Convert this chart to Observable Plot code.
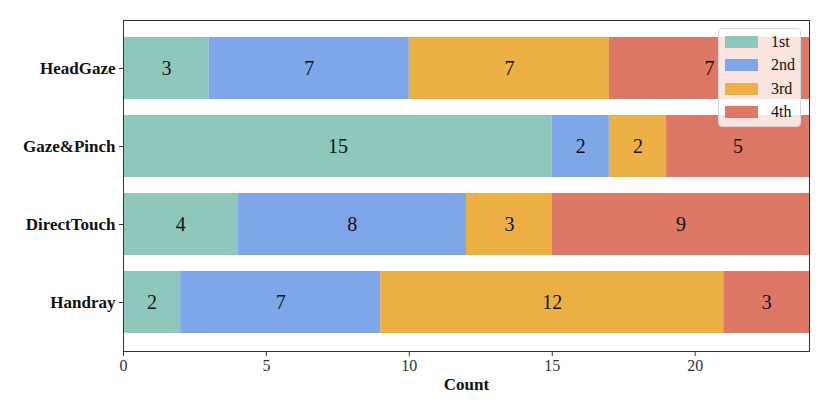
<!DOCTYPE html>
<html>
<head>
<meta charset="utf-8">
<script src="https://cdn.jsdelivr.net/npm/d3@7"></script>
<script src="https://cdn.jsdelivr.net/npm/@observablehq/plot@0.6"></script>
<style>
  html, body { margin: 0; padding: 0; background: #fff; }
  #wrap { position: relative; width: 830px; height: 415px; font-family: "Liberation Serif", serif; }
  svg { font-family: "Liberation Serif", serif; }
  g[aria-label="x-axis label"] text { font-weight: bold; font-size: 17px; fill: #111; }
  g[aria-label="y-axis tick label"] text { font-weight: bold; font-size: 17px; fill: #111; }
  #legend { position: absolute; left: 718px; top: 28px; width: 83px; height: 99px;
    background: rgba(255,255,255,0.8); border: 1px solid #d6d6d6; border-radius: 4px; box-sizing: border-box;
    padding: 1px 0 0 6px; }
  .item { display: flex; align-items: center; height: 23.5px; font-size: 16px; color: #111; }
  .sw { width: 33px; height: 12px; margin-right: 13px; }
</style>
</head>
<body>
<div id="wrap"></div>
<script>
const categories = ["HeadGaze", "Gaze&Pinch", "DirectTouch", "Handray"];
const ranks = ["1st", "2nd", "3rd", "4th"];
const rankColors = ["#8ec8bc", "#7fa6e8", "#edb044", "#de7866"];
const counts1st = [3, 15, 4, 2];
const counts2nd = [7, 2, 8, 7];
const counts3rd = [7, 2, 3, 12];
const counts4th = [7, 5, 9, 3];
const xTicks = [0, 5, 10, 15, 20];

const series = [counts1st, counts2nd, counts3rd, counts4th];
const data = [];
categories.forEach((c, i) => {
  ranks.forEach((r, j) => data.push({category: c, rank: r, value: series[j][i]}));
});

const chart = Plot.plot({
  width: 830,
  height: 415,
  marginTop: 20,
  marginBottom: 64,
  marginLeft: 123,
  marginRight: 21,
  style: {fontFamily: "Liberation Serif, serif", background: "transparent"},
  x: {domain: [0, 24], ticks: xTicks},
  y: {domain: categories, padding: 0.2},
  color: {domain: ranks, range: rankColors},
  marks: [
    Plot.barX(data, Plot.stackX({x: "value", y: "category", fill: "rank", z: "rank", order: ranks})),
    Plot.textX(data, Plot.stackX({x: "value", y: "category", z: "rank", text: "value", order: ranks, fontSize: 20, fill: "#111"})),
    Plot.frame({stroke: "#333", strokeWidth: 1}),
    Plot.axisX({ticks: xTicks, tickSize: 5, fontSize: 16, tickPadding: 3, label: "Count", labelAnchor: "center", labelArrow: "none", labelOffset: 38, stroke: "#333", color: "#333"}),
    Plot.axisY({tickSize: 4, tickPadding: 4, label: null, stroke: "#333"})
  ]
});
const wrap = document.getElementById("wrap");
wrap.appendChild(chart);

const legend = document.createElement("div");
legend.id = "legend";
ranks.forEach((r, i) => {
  const it = document.createElement("div");
  it.className = "item";
  it.innerHTML = `<span class="sw" style="background:${rankColors[i]}"></span><span>${r}</span>`;
  legend.appendChild(it);
});
wrap.appendChild(legend);
</script>
</body>
</html>
